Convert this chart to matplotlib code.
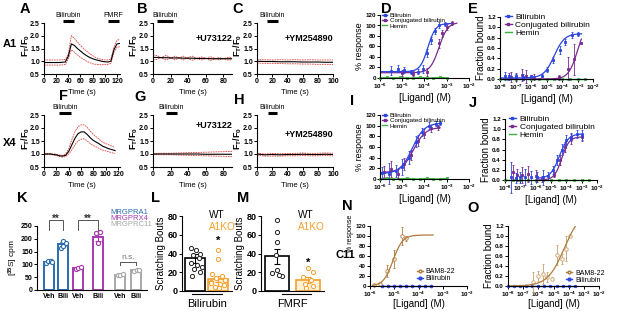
import numpy as np
import matplotlib
matplotlib.use('Agg')
import matplotlib.pyplot as plt
from matplotlib.ticker import NullLocator
from matplotlib.lines import Line2D

plt.rcParams['font.family'] = ['Liberation Sans', 'DejaVu Sans']
plt.rcParams['font.weight'] = 'bold'
plt.rcParams['mathtext.fontset'] = 'custom'
plt.rcParams['mathtext.rm'] = 'Liberation Sans:bold'
plt.rcParams['mathtext.it'] = 'Liberation Sans:bold'
plt.rcParams['mathtext.bf'] = 'Liberation Sans:bold'

# ---------------- data ----------------
# calcium traces (time s, mean, upper SEM, lower SEM)
A_t = [0, 5, 10, 15, 20, 25, 30, 35, 40, 45, 50, 55, 60, 65, 70, 75, 80, 85, 90, 95, 100, 105, 110, 115, 120, 125]
A_mean = [0.95, 0.95, 0.95, 0.95, 0.95, 0.95, 0.96, 0.97, 1.2, 1.68, 1.62, 1.5, 1.4, 1.3, 1.22, 1.15, 1.1, 1.06, 1.03, 1.0, 0.98, 0.97, 1.0, 1.45, 1.68, 1.7]
A_up = [1.05, 1.05, 1.05, 1.05, 1.05, 1.05, 1.06, 1.07, 1.3, 2.0, 1.9, 1.75, 1.62, 1.5, 1.4, 1.3, 1.22, 1.15, 1.1, 1.07, 1.05, 1.05, 1.08, 1.55, 1.83, 1.85]
A_dn = [0.85, 0.85, 0.85, 0.85, 0.85, 0.85, 0.86, 0.87, 1.1, 1.45, 1.35, 1.25, 1.15, 1.08, 1.0, 0.95, 0.9, 0.88, 0.87, 0.86, 0.87, 0.88, 0.92, 1.35, 1.55, 1.57]

B_t = [0, 5, 10, 15, 20, 25, 30, 35, 40, 45, 50, 55, 60, 65, 70, 75, 80, 85, 90]
B_mean = [1.15, 1.15, 1.14, 1.14, 1.13, 1.13, 1.13, 1.12, 1.12, 1.12, 1.11, 1.11, 1.11, 1.10, 1.10, 1.10, 1.10, 1.10, 1.10]
B_up = [1.25, 1.22, 1.12, 1.05, 1.12, 1.2, 1.12, 1.05, 1.15, 1.2, 1.1, 1.05, 1.1, 1.18, 1.12, 1.05, 1.1, 1.15, 1.15]
B_dn = [1.05, 1.08, 1.16, 1.23, 1.14, 1.05, 1.14, 1.2, 1.09, 1.04, 1.12, 1.17, 1.12, 1.03, 1.08, 1.15, 1.1, 1.05, 1.05]

C_t = [0, 10, 20, 30, 40, 50, 60, 70, 80, 90, 100]
C_mean = [1.0, 0.99, 0.99, 0.98, 0.98, 0.98, 0.97, 0.97, 0.97, 0.96, 0.96]
C_up = [1.06, 1.06, 1.05, 1.06, 1.05, 1.06, 1.05, 1.06, 1.05, 1.05, 1.05]
C_dn = [0.93, 0.92, 0.92, 0.91, 0.9, 0.9, 0.89, 0.89, 0.88, 0.88, 0.87]

F_t = [0, 5, 10, 15, 20, 25, 30, 35, 40, 45, 50, 55, 60, 65, 70, 75, 80, 85, 90, 95, 100, 105, 110, 115]
F_mean = [1.0, 1.0, 1.0, 0.98, 0.97, 0.93, 0.92, 0.95, 1.1, 1.35, 1.6, 1.78, 1.85, 1.85, 1.75, 1.62, 1.52, 1.45, 1.38, 1.3, 1.25, 1.2, 1.17, 1.13]
F_up = [1.02, 1.02, 1.02, 1.0, 0.99, 0.96, 0.95, 1.0, 1.2, 1.55, 1.85, 2.05, 2.12, 2.12, 2.02, 1.88, 1.75, 1.65, 1.55, 1.45, 1.4, 1.35, 1.3, 1.25]
F_dn = [0.98, 0.98, 0.98, 0.96, 0.94, 0.9, 0.88, 0.9, 1.0, 1.15, 1.35, 1.5, 1.57, 1.58, 1.5, 1.4, 1.32, 1.27, 1.2, 1.15, 1.12, 1.08, 1.05, 1.02]

G_t = [0, 10, 20, 30, 40, 50, 60, 70, 80, 90]
G_mean = [1.0, 1.0, 1.0, 1.0, 1.0, 1.0, 0.99, 0.99, 0.99, 0.99]
G_up = [1.02, 1.03, 1.03, 1.04, 1.05, 1.06, 1.07, 1.08, 1.09, 1.1]
G_dn = [0.98, 0.97, 0.97, 0.96, 0.95, 0.94, 0.93, 0.92, 0.91, 0.9]

H_t = [0, 10, 20, 30, 40, 50, 60, 70, 80, 90, 100]
H_mean = [1.0, 0.97, 0.98, 0.97, 0.98, 0.98, 0.99, 0.98, 0.98, 0.99, 0.98]
H_up = [1.03, 1.0, 1.02, 1.01, 1.02, 1.02, 1.04, 1.02, 1.03, 1.04, 1.03]
H_dn = [0.95, 0.92, 0.92, 0.92, 0.93, 0.93, 0.94, 0.93, 0.93, 0.94, 0.93]

# dose-response (log10 concentration, value, SEM) and fit params (bottom, top, logEC50, hill)
D_bili_lx = [-5.5, -5.2, -4.9, -4.6, -4.3, -4.05, -3.9, -3.7, -3.55, -3.35, -3.1]
D_bili_y = [14, 18, 15, 12, 12, 17, 48, 72, 90, 101, 103]
D_bili_e = [8, 6, 5, 4, 5, 8, 8, 7, 6, 5, 4]
D_bili_fit = [12, 104, -3.85, 2.5]
D_conj_lx = [-5.0, -4.5, -3.9, -3.35, -3.2, -3.0, -2.75]
D_conj_y = [10, 8, 11, 66, 85, 97, 104]
D_conj_e = [6, 5, 8, 8, 6, 5, 4]
D_conj_fit = [10, 106, -3.35, 2.2]
D_hem_lx = [-6.0, -5.7, -5.4, -5.1, -4.8, -4.5, -4.2, -3.9, -3.6, -3.3, -3.0]
D_hem_y = [0, 1, 0, 1, 0, 0, 1, 0, 0, 1, 0]

E_bili_lx = [-7.7, -7.4, -7.0, -6.5, -6.0, -5.3, -5.0, -4.6, -4.15, -3.8, -3.35, -3.0]
E_bili_y = [0.06, 0.05, 0.06, 0.04, 0.05, 0.06, 0.18, 0.37, 0.56, 0.72, 0.85, 0.87]
E_bili_e = [0.07, 0.06, 0.06, 0.05, 0.03, 0.03, 0.05, 0.06, 0.07, 0.06, 0.05, 0.04]
E_bili_fit = [0.02, 0.88, -4.5, 1.3]
E_conj_lx = [-7.3, -7.0, -6.6, -6.3, -5.8, -4.2, -3.6, -3.2, -2.8]
E_conj_y = [0.04, 0.03, 0.08, 0.05, 0.04, 0.03, 0.2, 0.38, 0.7]
E_conj_e = [0.1, 0.07, 0.12, 0.13, 0.05, 0.04, 0.22, 0.3, 0.0]
E_conj_fit = [0.0, 1.1, -3.0, 1.5]
E_hem_lx = [-8.0, -7.5, -7.0, -6.5, -6.0, -5.5, -5.0, -4.5, -4.0, -3.5, -3.0, -2.5]
E_hem_y = [0, 0, 0, 0, 0, 0, 0, 0, 0, 0, 0, 0]

I_bili_lx = [-5.9, -5.6, -5.3, -5.0, -4.7, -4.4, -4.1, -3.8, -3.5, -3.3]
I_bili_y = [12, 10, 15, 22, 40, 70, 88, 100, 104, 105]
I_bili_e = [10, 20, 12, 15, 12, 10, 8, 6, 5, 4]
I_bili_fit = [10, 105, -4.55, 1.6]
I_conj_lx = [-5.8, -5.5, -5.2, -4.9, -4.6, -4.3, -4.0, -3.7, -3.4]
I_conj_y = [14, 18, 10, 28, 45, 72, 85, 95, 97]
I_conj_e = [10, 15, 8, 12, 10, 10, 8, 6, 5]
I_conj_fit = [12, 97, -4.5, 1.6]
I_hem_lx = [-6.0, -5.7, -5.4, -5.1, -4.8, -4.5, -4.2, -3.9, -3.6, -3.3, -3.0]
I_hem_y = [0, 1, 0, 0, 1, 0, 0, 1, 0, 0, 1]

J_bili_lx = [-7.6, -7.3, -7.0, -6.7, -6.3, -5.9, -5.5, -5.2, -4.9, -4.6, -4.3, -4.0, -3.7, -3.3, -3.0]
J_bili_y = [0.05, 0.04, 0.05, 0.06, 0.05, 0.06, 0.05, 0.08, 0.2, 0.4, 0.6, 0.78, 0.85, 0.9, 0.88]
J_bili_e = [0.3, 0.1, 0.1, 0.15, 0.12, 0.1, 0.15, 0.08, 0.08, 0.1, 0.1, 0.1, 0.08, 0.08, 0.1]
J_bili_fit = [0.03, 0.91, -4.45, 1.5]
J_conj_lx = [-7.5, -7.2, -6.9, -6.5, -6.0, -5.6, -4.8, -4.4, -4.1, -3.7, -3.0]
J_conj_y = [0.15, 0.1, 0.1, 0.12, 0.08, 0.02, 0.1, 0.4, 0.65, 0.8, 0.84]
J_conj_e = [0.15, 0.12, 0.15, 0.15, 0.12, 0.05, 0.05, 0.1, 0.1, 0.1, 0.08]
J_conj_fit = [0.0, 0.85, -4.3, 1.8]
J_hem_lx = [-8.0, -7.5, -7.0, -6.5, -6.0, -5.5, -5.0, -4.5, -4.0, -3.5, -3.0, -2.5]
J_hem_y = [0, 0, 0, 0, 0, 0, 0, 0, 0, 0, 0, 0]

N_bam_lx = [-5.85, -5.6, -5.3, -5.0, -4.7, -4.5]
N_bam_y = [3, 5, 30, 55, 100, 96]
N_bam_e = [2, 3, 12, 18, 18, 5]
N_bam_fit = [0, 102, -5.05, 2.2]
N_bili_lx = [-5.5, -5.25, -5.0, -4.75, -4.5, -4.25, -4.0, -3.75, -3.5]
N_bili_y = [0, 0, 0, 0, 0, 0, 0, 0, 0]

O_bam_lx = [-6.35, -6.0, -5.7, -5.4, -5.1, -4.8, -4.45, -4.2, -3.9]
O_bam_y = [0.08, 0.2, 0.25, 0.18, 0.15, 0.63, 0.55, 0.75, 1.0]
O_bam_e = [0.2, 0.1, 0.2, 0.1, 0.03, 0.2, 0.1, 0.25, 0.02]
O_bam_fit = [0.0, 1.5, -4.3, 0.8]
O_bili_lx = [-8.0, -7.6, -7.2, -6.8, -6.4, -6.0, -5.6, -5.2, -4.8, -4.4, -4.0, -3.6]
O_bili_y = [0, 0, 0, 0, 0, 0, 0, 0, 0, 0, 0, 0]

# K: [35S] binding
K_groups = ['MRGPRA1', 'MRGPRX4', 'MRGPRC11']
K_conds = ['Veh', 'Bili', 'Veh', 'Bili', 'Veh', 'Bili']
K_means = [110, 178, 85, 207, 60, 77]
K_sem = [4, 8, 3, 14, 3, 3]
K_points = [[105, 112, 115, 108], [165, 172, 192, 182], [82, 85, 88], [185, 222, 228], [57, 60, 62], [75, 78, 80]]

# L, M: scratching
L_means = [35, 13]
L_sem = [5, 3]
L_wt = [46, 44, 40, 38, 35, 30, 28, 24, 20, 16, 26]
L_ko = [44, 34, 18, 16, 14, 12, 10, 8, 6, 4, 3, 12, 9]
M_means = [37, 12]
M_sem = [8, 3]
M_wt = [76, 63, 52, 38, 22, 19, 16, 17]
M_ko = [25, 20, 15, 12, 8, 5, 3]

# ---------------- drawing ----------------
W, H = 617, 311
fig = plt.figure(figsize=(W / 100, H / 100), dpi=100)
RED = '#e0403a'
BLUE = '#2c46e0'
PURP = '#7a2a90'
GREEN = '#3cb043'
BAM = '#b07a3a'
BAMPT = '#c9a06a'
A1C = '#2a6cae'
X4C = '#a838b0'
C11C = '#a8a8a8'
ORANGE = '#f5a02a'


def add_ax(x0, x1, y0, y1):
    return fig.add_axes([x0 / W, 1 - y1 / H, (x1 - x0) / W, (y1 - y0) / H])


def ftext(x, y, s, **kw):
    kw.setdefault('ha', 'center')
    kw.setdefault('va', 'center')
    fig.text(x / W, 1 - y / H, s, **kw)


def style(ax, fs=5):
    for s in ['top', 'right']:
        ax.spines[s].set_visible(False)
    for s in ['left', 'bottom']:
        ax.spines[s].set_linewidth(0.8)
    ax.tick_params(length=2, width=0.7, labelsize=fs, pad=1)


def trace(ax, t, m, u, d, xmax, xt, bars, drug=None, drug_y=2.0, wpx=76):
    ax.plot(t, u, color=RED, lw=0.6, ls=(0, (2, 1)))
    ax.plot(t, d, color=RED, lw=0.6, ls=(0, (2, 1)))
    ax.plot(t, m, color='k', lw=0.8)
    ax.set_xlim(0, xmax)
    ax.set_ylim(0.5, 2.5)
    ax.set_xticks(xt)
    ax.set_yticks([0.5, 1.0, 1.5, 2.0, 2.5])
    ax.set_yticklabels(['0.5', '1.0', '1.5', '2.0', '2.5'])
    style(ax, 5)
    ax.set_xlabel('Time (s)', fontsize=5.5, labelpad=3)
    ax.set_ylabel(r'$F_T/F_0$', fontsize=6.5)
    ax.yaxis.set_label_coords(-12.5 / wpx, 0.55)
    for a, b, lab in bars:
        ax.plot([a, b], [2.56, 2.56], color='k', lw=2.2, clip_on=False, solid_capstyle='butt')
        ax.text((a + b) / 2, 2.8, lab, ha='center', va='center', fontsize=5, fontweight='normal')
    if drug:
        ax.text(xmax, drug_y, drug, ha='right', va='center', fontsize=6.5)


def hill(lx, p):
    b, t, ec, h = p
    return b + (t - b) / (1 + 10 ** ((ec - lx) * h))


def ligand_axes(ax, xlo, xhi, ylim, yt, ylab, ylfs):
    ax.set_xscale('log')
    ax.set_xlim(10.0 ** xlo, 10.0 ** xhi)
    ks = list(range(xlo, xhi + 1))
    ax.set_xticks([10.0 ** k for k in ks])
    ax.set_xticklabels([r'$10^{%d}$' % k for k in ks])
    ax.xaxis.set_minor_locator(NullLocator())
    ax.set_ylim(0, ylim)
    ax.set_yticks(yt)
    style(ax, 4.5)
    ax.set_xlabel('[Ligand] (M)', fontsize=7, labelpad=1)
    ax.set_ylabel(ylab, fontsize=ylfs, labelpad=1)


def series(ax, lx, y, e, color, fit=None, lxrange=None, marker='s', mfc=None, ms=1.8, line_through=False):
    x = [10.0 ** v for v in lx]
    if e is not None:
        ax.errorbar(x, y, yerr=e, fmt='none', ecolor=color, elinewidth=0.6, capsize=1, capthick=0.6, clip_on=False)
    ax.plot(x, y, ls='none', marker=marker, ms=ms, color=color, mfc=mfc if mfc else color, mew=0.6, clip_on=False)
    if fit is not None:
        xs = np.linspace(lxrange[0], lxrange[1], 200)
        ax.plot(10 ** xs, hill(xs, fit), color=color, lw=0.9)
    if line_through:
        ax.plot(x, y, color=color, lw=1.0, clip_on=False)


# ---- Row 1 ----
axA = add_ax(44, 120, 23, 74)
trace(axA, A_t, A_mean, A_up, A_dn, 125, [0, 20, 40, 60, 80, 100, 120],
      [(31, 49, 'Bilirubin'), (105, 123, 'FMRF')], wpx=76)
axB = add_ax(153, 232, 23, 74)
trace(axB, B_t, B_mean, B_up, B_dn, 90, [0, 20, 40, 60, 80], [(5, 23, 'Bilirubin')], '+U73122', 1.9, wpx=79)
axC = add_ax(257, 333, 23, 74)
trace(axC, C_t, C_mean, C_up, C_dn, 100, [0, 20, 40, 60, 80, 100], [(13, 28, 'Bilirubin')], '+YM254890', 1.9, wpx=76)

axD = add_ax(380, 469, 15, 78)
ligand_axes(axD, -6, -2, 120, [0, 20, 40, 60, 80, 100, 120], '% response', 6.5)
series(axD, D_hem_lx, D_hem_y, None, GREEN, line_through=True)
series(axD, D_conj_lx, D_conj_y, D_conj_e, PURP, D_conj_fit, (-6, -2.55))
series(axD, D_bili_lx, D_bili_y, D_bili_e, BLUE, D_bili_fit, (-6, -2.8))

axE = add_ax(500, 593, 17, 79)
ligand_axes(axE, -8, -2, 1.2, [0, 0.2, 0.4, 0.6, 0.8, 1.0, 1.2], 'Fraction bound', 7)
axE.set_yticklabels(['0.0', '0.2', '0.4', '0.6', '0.8', '1.0', '1.2'])
series(axE, E_hem_lx, E_hem_y, None, GREEN, line_through=True)
series(axE, E_conj_lx, E_conj_y, E_conj_e, PURP, E_conj_fit, (-8, -2.75))
series(axE, E_bili_lx, E_bili_y, E_bili_e, BLUE, E_bili_fit, (-8, -2.75))

# ---- Row 2 ----
axF = add_ax(44, 120, 115, 167)
trace(axF, F_t, F_mean, F_up, F_dn, 123, [0, 20, 40, 60, 80, 100, 120], [(25, 44, 'Bilirubin')], wpx=76)
axG = add_ax(153, 232, 115, 167)
trace(axG, G_t, G_mean, G_up, G_dn, 90, [0, 20, 40, 60, 80], [(15, 27, 'Bilirubin')], '+U73122', 2.1, wpx=79)
axH = add_ax(257, 333, 115, 167)
trace(axH, H_t, H_mean, H_up, H_dn, 100, [0, 20, 40, 60, 80, 100], [(15, 26, 'Bilirubin')], '+YM254890', 1.75, wpx=76)

axI = add_ax(380, 469, 115, 179)
ligand_axes(axI, -6, -2, 120, [0, 20, 40, 60, 80, 100, 120], '% response', 6.5)
series(axI, I_hem_lx, I_hem_y, None, GREEN, line_through=True)
series(axI, I_conj_lx, I_conj_y, I_conj_e, PURP, I_conj_fit, (-6, -3.3))
series(axI, I_bili_lx, I_bili_y, I_bili_e, BLUE, I_bili_fit, (-6, -3.25))

axJ = add_ax(505, 597, 119, 180)
ligand_axes(axJ, -8, -2, 1.2, [0, 0.2, 0.4, 0.6, 0.8, 1.0, 1.2], 'Fraction bound', 7)
axJ.set_yticklabels(['0.0', '0.2', '0.4', '0.6', '0.8', '1.0', '1.2'])
series(axJ, J_hem_lx, J_hem_y, None, GREEN, line_through=True)
series(axJ, J_conj_lx, J_conj_y, J_conj_e, PURP, J_conj_fit, (-5.8, -2.9))
series(axJ, J_bili_lx, J_bili_y, J_bili_e, BLUE, J_bili_fit, (-5.8, -2.9))

for ax, fs, anchor in [(axD, 4.5, (0.02, 1.04)), (axI, 4.5, (0.02, 1.04)),
                       (axE, 6, (0.05, 1.06)), (axJ, 6, (0.04, 1.06))]:
    hs = [Line2D([], [], color=BLUE, marker='s', ms=1.5, lw=1),
          Line2D([], [], color=PURP, marker='s', ms=1.5, lw=1),
          Line2D([], [], color=GREEN, lw=1)]
    leg = ax.legend(hs, ['Bilirubin', 'Conjugated bilirubin', 'Hemin'], loc='upper left',
                    bbox_to_anchor=anchor, frameon=False, fontsize=fs, handlelength=0.9,
                    handletextpad=0.4, labelspacing=0.0, borderaxespad=0, borderpad=0)
    for tx in leg.get_texts():
        tx.set_fontweight('normal')

# ---- Row 3 ----
axK = add_ax(37, 147, 226, 290)
K_pos = [0, 1.4, 2.9, 4.9, 7.1, 8.7]
K_cols = [A1C, A1C, X4C, X4C, C11C, C11C]
K_jit = [[-0.3, -0.1, 0.15, 0.3], [-0.25, -0.05, 0.0, 0.25], [-0.25, 0.0, 0.25], [0.0, -0.2, 0.2], [-0.25, 0.0, 0.25], [-0.2, 0.05, 0.25]]
for p, m, s, c, pts, jit in zip(K_pos, K_means, K_sem, K_cols, K_points, K_jit):
    axK.bar(p, m, width=1.05, facecolor='white', edgecolor=c, linewidth=1.4)
    axK.errorbar(p, m, yerr=s, color=c, capsize=2, elinewidth=0.8, capthick=0.8)
    axK.plot([p + j for j in jit], pts, 'o', mfc='white', mec=c, ms=3, mew=0.8, clip_on=False)
axK.set_xlim(-1.2, 9.8)
axK.set_ylim(0, 250)
axK.set_yticks([0, 50, 100, 150, 200, 250])
axK.set_xticks(K_pos)
axK.set_xticklabels(K_conds)
style(axK, 5)
axK.tick_params(axis='x', length=0, pad=2)
axK.set_ylabel(r'[$^{35}$S] cpm', fontsize=6, labelpad=1)
for (a, b, lab, y0, y1) in [(0, 1.4, '**', 234, 273), (2.9, 4.9, '**', 234, 273), (7.1, 8.7, 'n.s.', 98, 109)]:
    axK.plot([a, a, b, b], [y0, y1, y1, y0], color='#555555', lw=0.7, clip_on=False)
    if lab == '**':
        axK.text((a + b) / 2, y1 + 6, lab, ha='center', va='center', fontsize=7, color='#333333')
    else:
        axK.text((a + b) / 2, y1 + 4, lab, ha='center', va='bottom', fontsize=6,
                 fontweight='normal', color='#777777')
for i, (g, c) in enumerate(zip(K_groups, [A1C, X4C, C11C])):
    ftext(110, 212 + 6 * i, g, color=c, fontsize=5.5, fontweight='normal', ha='left')


def scratch(ax, means, sem, wt, ko, wt_jit, ko_jit, xl, xlo, xhi, width, star_y, line_px):
    ax.bar(0, means[0], width=width, facecolor='white', edgecolor='k', linewidth=1.2)
    ax.bar(1, means[1], width=width, facecolor='#fff0d8', edgecolor=ORANGE, linewidth=1.2)
    ax.errorbar(0, means[0], yerr=sem[0], color='k', capsize=2, elinewidth=0.8, capthick=0.8)
    ax.errorbar(1, means[1], yerr=sem[1], color=ORANGE, capsize=2, elinewidth=0.8, capthick=0.8)
    ax.plot([0 + j for j in wt_jit], wt, 'o', mfc='white', mec='#222222', ms=3, mew=0.7, clip_on=False)
    ax.plot([1 + j for j in ko_jit], ko, 'o', mfc='white', mec=ORANGE, ms=3, mew=0.7, clip_on=False)
    ax.text(1, star_y, '*', ha='center', va='center', fontsize=8)
    ax.set_xlim(xlo, xhi)
    ax.set_ylim(0, 80)
    ax.set_yticks([0, 20, 40, 60, 80])
    ax.set_xticks([])
    style(ax, 6.5)
    ax.set_ylabel('Scratching Bouts', fontsize=7, labelpad=1)
    ax.plot(line_px, [-0.04, -0.04], transform=ax.get_xaxis_transform(), color='k', lw=0.8, clip_on=False)
    ax.set_xlabel(xl, fontsize=8, fontweight='normal', labelpad=6)


axL = add_ax(182, 232, 216, 291)
scratch(axL, L_means, L_sem, L_wt, L_ko,
        [-0.2, 0.05, 0.2, -0.1, 0.15, -0.2, 0.1, -0.05, 0.2, -0.15, 0.3],
        [0.0, 0.0, -0.25, 0.15, -0.1, 0.3, -0.3, 0.1, 0.25, -0.15, 0.05, 0.3, -0.3],
        'Bilirubin', -0.57, 1.6, 0.87, 54, [-0.15, 1.15])
axM = add_ax(261, 324, 216, 291)
scratch(axM, M_means, M_sem, M_wt, M_ko,
        [0.0, 0.0, 0.0, -0.05, 0.0, -0.15, 0.15, 0.05],
        [0.0, 0.15, -0.15, 0.1, -0.1, 0.15, -0.05],
        'FMRF', -0.52, 1.52, 0.77, 30, [0.15, 1.1])
ftext(209, 215.5, 'WT', fontsize=7.2, fontweight='normal', ha='left')
ftext(209, 226.5, 'A1KO', fontsize=7.2, fontweight='normal', ha='left', color=ORANGE)
ftext(298, 215.5, 'WT', fontsize=7.2, fontweight='normal', ha='left')
ftext(298, 226.5, 'A1KO', fontsize=7.2, fontweight='normal', ha='left', color=ORANGE)

axN = add_ax(370, 467, 226, 286)
ligand_axes(axN, -6, -2, 120, [0, 20, 40, 60, 80, 100, 120], '% response', 5)
axN.yaxis.set_label_coords(-0.17, 0.88)
axN.xaxis.labelpad = 0
series(axN, N_bili_lx, N_bili_y, None, BLUE, marker='o', ms=2, line_through=True)
series(axN, N_bam_lx, N_bam_y, N_bam_e, BAM, N_bam_fit, (-5.9, -3.4), marker='o', mfc='white', ms=2.5)
axO = add_ax(508, 599, 226, 286)
ligand_axes(axO, -8, -2, 1.2, [0, 0.2, 0.4, 0.6, 0.8, 1.0, 1.2], 'Fraction bound', 7)
axO.set_yticklabels(['0.0', '0.2', '0.4', '0.6', '0.8', '1.0', '1.2'])
axO.xaxis.labelpad = 0
series(axO, O_bili_lx, O_bili_y, None, BLUE, marker='o', ms=1.8, line_through=True)
series(axO, O_bam_lx, O_bam_y, O_bam_e, BAMPT, None, marker='o', mfc='white', ms=2.5)
xs = np.linspace(-8, -3.45, 200)
axO.plot(10 ** xs, hill(xs, O_bam_fit), color=BAM, lw=0.9)
for ax, anchor in [(axN, (0.48, 0.3)), (axO, (0.64, 0.27))]:
    hs = [Line2D([], [], color=BAM, marker='o', ms=2, mfc='white', lw=1),
          Line2D([], [], color=BLUE, marker='o', ms=2, lw=1)]
    leg = ax.legend(hs, ['BAM8-22', 'Bilirubin'], loc='upper left', bbox_to_anchor=anchor,
                    frameon=False, fontsize=5, handlelength=0.9, handletextpad=0.4,
                    labelspacing=0.0, borderaxespad=0, borderpad=0)
    for tx in leg.get_texts():
        tx.set_fontweight('normal')

# panel letters and row labels
for lab, x, y in [('A', 25, 9), ('B', 142, 9), ('C', 238, 9), ('D', 386, 9), ('E', 473, 9),
                  ('F', 64, 96), ('G', 140, 97), ('H', 239, 100), ('I', 352, 101), ('J', 473, 103),
                  ('K', 22, 198), ('L', 155, 198), ('M', 243, 198), ('N', 347, 206), ('O', 473, 208)]:
    ftext(x, y, lab, fontsize=10.5)
ftext(10, 44, 'A1', fontsize=8)
ftext(10, 143, 'X4', fontsize=8)
ftext(345, 255, 'C11', fontsize=8)

fig.savefig('out.png', dpi=100)
